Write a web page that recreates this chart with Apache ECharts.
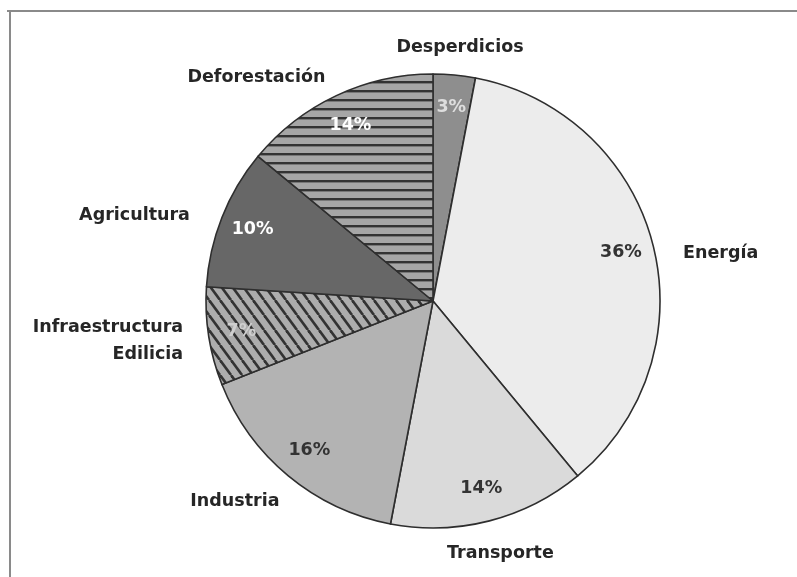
<!DOCTYPE html>
<html>
<head>
<meta charset="utf-8">
<script src="https://cdn.jsdelivr.net/npm/echarts@6/dist/echarts.min.js"></script>
<style>
html,body{margin:0;padding:0;background:#fff;}
#chart{width:797px;height:577px;}
</style>
</head>
<body>
<div id="chart"></div>
<script>
// ---- data ----
const categories = ['Desperdicios', 'Energía', 'Transporte', 'Industria', 'Infraestructura Edilicia', 'Agricultura', 'Deforestación'];
const shares = [3, 36, 14, 16, 7, 10, 14];

// ---- styles ----
function stripePattern(kind) {
  const c = document.createElement('canvas');
  const ctx = c.getContext('2d');
  if (kind === 'horizontal') {
    c.width = 8; c.height = 9;
    ctx.fillStyle = '#a6a6a6'; ctx.fillRect(0, 0, 8, 9);
    ctx.fillStyle = '#333333'; ctx.fillRect(0, 0, 8, 2.4);
  } else {
    const w = 11, h = 15;
    c.width = w; c.height = h;
    ctx.fillStyle = '#adadad'; ctx.fillRect(0, 0, w, h);
    ctx.strokeStyle = '#333333'; ctx.lineWidth = 2.6;
    for (const off of [-w, 0, w]) {
      ctx.beginPath(); ctx.moveTo(off, 0); ctx.lineTo(off + w, h); ctx.stroke();
    }
  }
  return { image: c, repeat: 'repeat' };
}
const sliceFills = ['#8e8e8e', '#ececec', '#dadada', '#b3b3b3', stripePattern('diagonal'), '#676767', stripePattern('horizontal')];
const innerLabelColors = ['#dedede', '#333333', '#333333', '#333333', '#cfcfcf', '#ffffff', '#ffffff'];
const outerLabelAdjust = [
  { dx: 3, dy: 0, align: 'center' },
  { dx: 3, dy: 16 },
  { dx: 4, dy: 5, align: 'center' },
  { dx: 9, dy: 4 },
  { dx: 2, dy: 0 },
  { dx: -6, dy: 8 },
  { dx: 1, dy: 7 }
];
const FONT = '"DejaVu Sans", sans-serif';
const CENTER = [433, 301];
const R = 227;

const chart = echarts.init(document.getElementById('chart'), null, { renderer: 'canvas' });

const outerData = categories.map((name, i) => ({
  name: name,
  value: shares[i],
  itemStyle: { color: sliceFills[i] }
}));
const innerData = categories.map((name, i) => ({
  name: name,
  value: shares[i],
  label: { color: innerLabelColors[i] }
}));

chart.setOption({
  backgroundColor: '#ffffff',
  animation: false,
  graphic: [
    { type: 'line', shape: { x1: 7, y1: 11, x2: 797, y2: 11 }, style: { stroke: '#8a8a8a', lineWidth: 2 } },
    { type: 'line', shape: { x1: 10, y1: 11, x2: 10, y2: 577 }, style: { stroke: '#8a8a8a', lineWidth: 2 } }
  ],
  series: [
    {
      type: 'pie',
      center: CENTER,
      radius: R,
      startAngle: 90,
      clockwise: true,
      avoidLabelOverlap: false,
      silent: true,
      itemStyle: { borderColor: '#2e2e2e', borderWidth: 1.6 },
      label: {
        show: true,
        position: 'outside',
        distanceToLabelLine: 0,
        formatter: p => p.name.replace(' ', '\n'),
        fontFamily: FONT,
        fontWeight: 'bold',
        fontSize: 17.5,
        lineHeight: 27,
        color: '#262626'
      },
      labelLine: { show: false, length: 28, length2: 0 },
      labelLayout: function (p) {
        const a = outerLabelAdjust[p.dataIndex];
        const o = { dx: a.dx, dy: a.dy };
        if (a.align) o.align = a.align;
        return o;
      },
      emphasis: { disabled: true },
      data: outerData
    },
    {
      type: 'pie',
      center: CENTER,
      radius: [155, R],
      startAngle: 90,
      clockwise: true,
      silent: true,
      avoidLabelOverlap: false,
      itemStyle: { color: 'rgba(0,0,0,0)', borderWidth: 0 },
      label: {
        show: true,
        position: 'inside',
        formatter: p => p.value + '%',
        fontFamily: FONT,
        fontWeight: 'bold',
        fontSize: 17.5
      },
      labelLine: { show: false },
      emphasis: { disabled: true },
      data: innerData
    }
  ]
});
</script>
</body>
</html>
